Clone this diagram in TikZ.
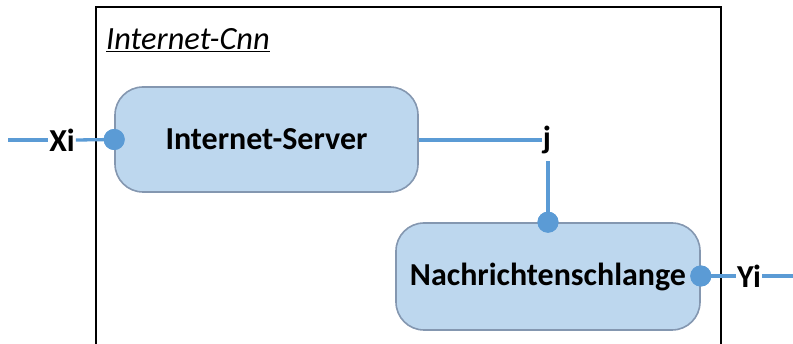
\documentclass[tikz,border=0pt]{standalone}
\usepackage{fontspec}
\setmainfont{Carlito}
\begin{document}
\begin{tikzpicture}[x=1pt,y=-1pt,
  block/.style={draw=boxedge, fill=boxfill, line width=1.6pt, rounded corners=28pt,
    inner sep=0pt, font=\fontsize{32}{36}\selectfont\bfseries},
  wire/.style={draw=wireblue, line width=3.3pt},
  port/.style={circle, fill=wireblue, minimum size=21pt, inner sep=0pt},
  sig/.style={inner sep=1pt, font=\fontsize{32}{36}\selectfont\bfseries}]
\definecolor{boxfill}{HTML}{BDD7EE}
\definecolor{boxedge}{HTML}{8497B0}
\definecolor{wireblue}{HTML}{5B9BD5}
\useasboundingbox (0,0) rectangle (793,344);

% container frame, open at the bottom
\draw[line width=1.6pt] (96,344) -- (96,7) -- (721,7) -- (721,344);
\node[anchor=west, inner sep=0pt, font=\fontsize{32.4}{36}\selectfont\itshape]
  (title) at (106,40) {\underline{Internet-Cnn}};

% components
\node[block, minimum width=303pt, minimum height=105pt] (srv) at (266.5,139.5) {Internet-Server};
\node[block, minimum width=304pt, minimum height=107pt] (queue) at (548,276.5) {Nachrichtenschlange};

% signal labels
\node[sig] (xi) at (62,140) {Xi};
\node[sig] (j) at (547,140) {j};
\node[sig] (yi) at (749,276) {Yi};

% ports
\node[port] (pin) at (srv.west) {};
\node[port] (pq) at (queue.north) {};
\node[port] (pout) at (queue.east |- yi) {};

\coordinate (xin) at (8,140);
\coordinate (yout) at (793,276);

% wiring
\draw[wire] (xin) -- (xi.west);
\draw[wire] (xi.east) -- (pin.center);
\draw[wire] (srv.east |- j) -- (j.west);
\draw[wire] (j.south -| pq) ++(0,6) -- (pq.center);
\draw[wire] (pout.center) -- (yi.west);
\draw[wire] (yi.east) -- (yout);
\node[port] at (pin) {};
\node[port] at (pq) {};
\node[port] at (pout) {};
\end{tikzpicture}
\end{document}
